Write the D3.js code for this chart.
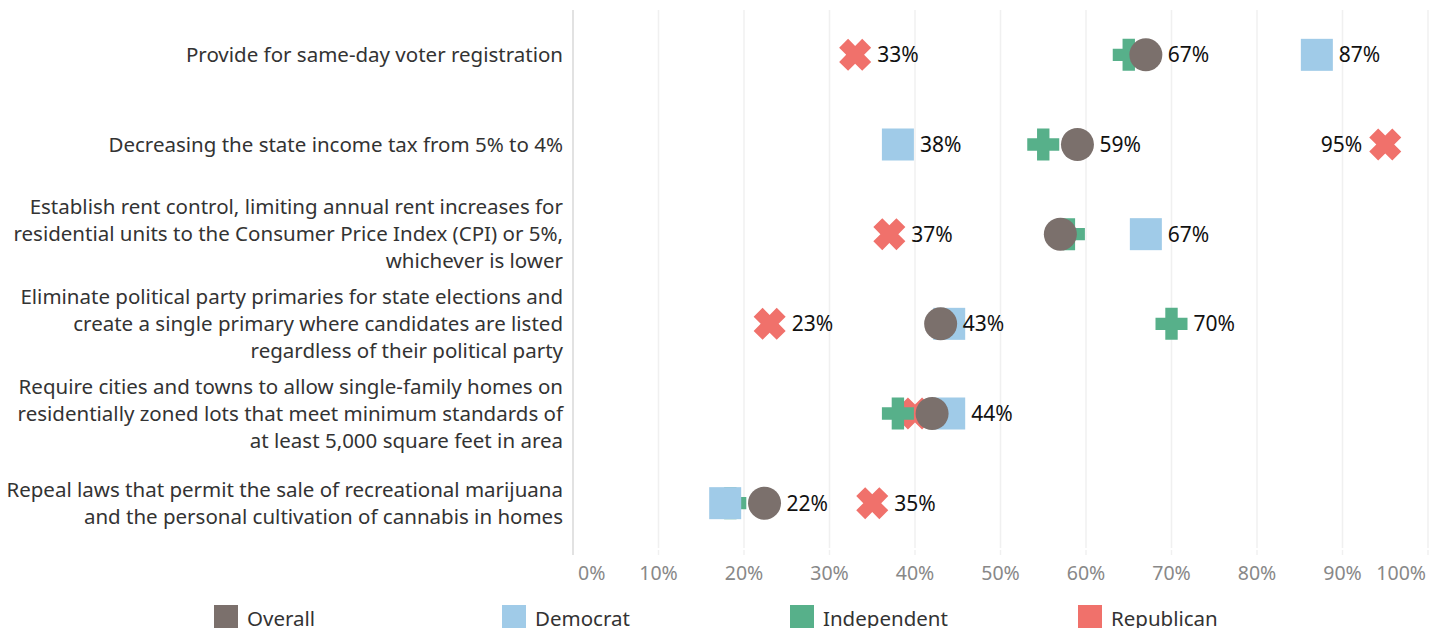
<!DOCTYPE html>
<html>
<head>
<meta charset="utf-8">
<script src="https://cdn.jsdelivr.net/npm/d3@7"></script>
<style>
  body { margin: 0; background: #fff; }
  svg { display: block; font-family: "Noto Sans", "Open Sans", sans-serif; }
</style>
</head>
<body>
<svg width="1440" height="628"></svg>
<script>
// questions, one line per entry of the inner array
let questions = [
  ["Provide for same-day voter registration"],
  ["Decreasing the state income tax from 5% to 4%"],
  ["Establish rent control, limiting annual rent increases for",
   "residential units to the Consumer Price Index (CPI) or 5%,",
   "whichever is lower"],
  ["Eliminate political party primaries for state elections and",
   "create a single primary where candidates are listed",
   "regardless of their political party"],
  ["Require cities and towns to allow single-family homes on",
   "residentially zoned lots that meet minimum standards of",
   "at least 5,000 square feet in area"],
  ["Repeal laws that permit the sale of recreational marijuana",
   "and the personal cultivation of cannabis in homes"]
];
let seriesNames = ["Overall", "Democrat", "Independent", "Republican"];
let overall     = [67, 59, 57, 43, 42, 22.4];
let democrat    = [87, 38, 67, 44, 44, 17.8];
let independent = [65, 55, 58, 70, 38, 18.4];
let republican  = [33, 95, 37, 23, 40, 35];
let xTicks = [0, 10, 20, 30, 40, 50, 60, 70, 80, 90, 100];
// which value labels are visible: [row, series]
let shownLabels = [
  [0, "Republican"], [0, "Overall"], [0, "Democrat"],
  [1, "Democrat"], [1, "Overall"], [1, "Republican"],
  [2, "Republican"], [2, "Democrat"],
  [3, "Republican"], [3, "Overall"], [3, "Independent"],
  [4, "Democrat"],
  [5, "Overall"], [5, "Republican"]
];

let colors = {
  Overall: "#7b706c",
  Democrat: "#a0cbe8",
  Independent: "#57b08a",
  Republican: "#f0716b"
};
let values = { Overall: overall, Democrat: democrat, Independent: independent, Republican: republican };

let svg = d3.select("svg");
let margin = { top: 10, left: 573 };
let plotH = 538;

let x = d3.scaleLinear().domain([0, 100]).range([margin.left, margin.left + 855]);
let y = d3.scaleBand().domain(d3.range(questions.length))
  .range([margin.top, margin.top + plotH]);

// gridlines
svg.append("g").selectAll("line")
  .data(xTicks.slice(1))
  .enter().append("line")
  .attr("x1", d => x(d)).attr("x2", d => x(d))
  .attr("y1", margin.top).attr("y2", margin.top + plotH)
  .attr("stroke", "#f0f0f0").attr("stroke-width", 1.5);
svg.append("g").selectAll("line")
  .data(xTicks.slice(1))
  .enter().append("line")
  .attr("x1", d => x(d)).attr("x2", d => x(d))
  .attr("y1", margin.top + plotH + 2).attr("y2", margin.top + plotH + 7)
  .attr("stroke", "#f0f0f0").attr("stroke-width", 1.5);

// y axis line
svg.append("line")
  .attr("x1", x(0)).attr("x2", x(0))
  .attr("y1", margin.top).attr("y2", margin.top + plotH + 7)
  .attr("stroke", "#e2e2e2").attr("stroke-width", 2);

// x tick labels
svg.append("g").selectAll("text")
  .data(xTicks)
  .enter().append("text")
  .attr("x", d => d === 0 ? x(d) + 5 : d === 100 ? x(d) - 2 : x(d))
  .attr("y", 580)
  .attr("text-anchor", d => d === 0 ? "start" : d === 100 ? "end" : "middle")
  .attr("fill", "#888")
  .style("font-size", "19.5px")
  .text(d => d + "%");

// category labels
let lineH = 27;
let cat = svg.append("g").selectAll("text")
  .data(questions)
  .enter().append("text")
  .attr("text-anchor", "end")
  .attr("fill", "#333")
  .style("font-size", "20.5px");
cat.each(function (lines, i) {
  let cy = y(i) + y.bandwidth() / 2;
  let y0 = cy - (lines.length - 1) * lineH / 2;
  d3.select(this).selectAll("tspan")
    .data(lines)
    .enter().append("tspan")
    .attr("x", 563)
    .attr("y", (d, j) => y0 + j * lineH + 7)
    .text(d => d);
});

// marker shapes
let s = 16;   // half size
let a = 6.2;  // half arm thickness
let plusPath = `M${-a},${-s}H${a}V${-a}H${s}V${a}H${a}V${s}H${-a}V${a}H${-s}V${-a}H${-a}Z`;
function marker(g, name) {
  if (name === "Overall") {
    g.append("circle").attr("r", 16.5).attr("fill", colors[name]);
  } else if (name === "Democrat") {
    g.append("rect").attr("x", -16).attr("y", -16).attr("width", 32).attr("height", 32)
      .attr("fill", colors[name]);
  } else if (name === "Independent") {
    g.append("path").attr("d", plusPath).attr("fill", colors[name]);
  } else {
    g.append("path").attr("d", plusPath).attr("fill", colors[name])
      .attr("transform", "rotate(45) scale(1.02)");
  }
}

let drawOrder = ["Republican", "Independent", "Democrat", "Overall"];
let marks = svg.append("g");
drawOrder.forEach(name => {
  values[name].forEach((v, i) => {
    let g = marks.append("g")
      .attr("transform", `translate(${x(v)},${y(i) + y.bandwidth() / 2})`);
    marker(g, name);
  });
});

// value labels
svg.append("g").selectAll("text")
  .data(shownLabels)
  .enter().append("text")
  .each(function (d) {
    let v = values[d[1]][d[0]];
    let left = v > 90;
    d3.select(this)
      .attr("x", left ? x(v) - 23 : x(v) + 22)
      .attr("y", y(d[0]) + y.bandwidth() / 2 + 7.5)
      .attr("text-anchor", left ? "end" : "start")
      .attr("fill", "#111")
      .style("font-size", "21px")
      .text(Math.round(v) + "%");
  });

// legend
let legend = svg.append("g").selectAll("g")
  .data(seriesNames)
  .enter().append("g")
  .attr("transform", (d, i) => `translate(${214 + i * 288},605)`);
legend.append("rect").attr("width", 24).attr("height", 24).attr("fill", d => colors[d]);
legend.append("text")
  .attr("x", 33).attr("y", 21)
  .attr("fill", "#333")
  .style("font-size", "20.5px")
  .text(d => d);
</script>
</body>
</html>
